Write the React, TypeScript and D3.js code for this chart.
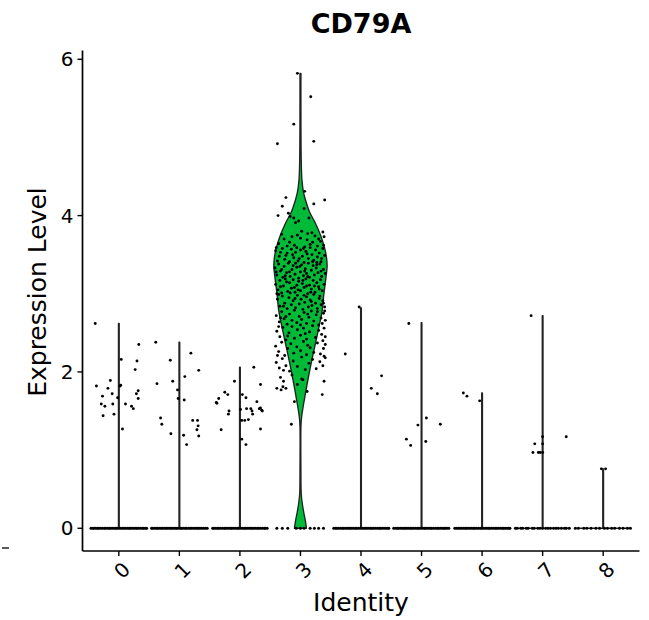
import React from 'react';
import * as d3 from 'd3';

// ---------- data ----------
const categories = ['0', '1', '2', '3', '4', '5', '6', '7', '8'];
const yTicks = [0, 2, 4, 6];
const clusterColors = ['#F8766D', '#D39200', '#93AA00', '#00BA38', '#00C19F', '#00B9E3', '#619CFF', '#DB72FB', '#FF61C3'];
const clusterMax = [2.62, 2.38, 2.06, 5.82, 2.82, 2.63, 1.73, 2.72, 0.76];

// violin profile of cluster 3: [expression, half width in category units]
const cluster3Profile: [number, number][] = [
  [0, 0.1], [0.1, 0.08], [0.2, 0.055], [0.3, 0.033], [0.4, 0.017], [0.5, 0.01], [0.7, 0.008],
  [1.3, 0.008], [1.41, 0.017], [1.54, 0.041], [1.65, 0.066], [1.75, 0.088], [1.96, 0.138],
  [2.1, 0.174], [2.37, 0.249], [2.58, 0.307], [2.79, 0.36], [2.99, 0.386], [3.2, 0.42],
  [3.35, 0.44], [3.46, 0.431], [3.59, 0.398], [3.75, 0.332], [3.9, 0.249], [4.05, 0.149],
  [4.2, 0.083], [4.3, 0.05], [4.45, 0.025], [4.7, 0.013], [5.82, 0.008],
];

// jittered non-zero cells: [jitter offset (category units), expression]
const expr0: [number, number][] = [
  [-0.39, 2.62], [-0.37, 1.82], [-0.27, 1.69], [-0.29, 1.59], [-0.23, 1.56], [-0.26, 1.44], [-0.18, 1.79],
  [-0.14, 1.89], [-0.11, 1.72], [-0.1, 1.59], [-0.08, 1.46], [-0.02, 1.67], [0.02, 1.82], [0.03, 1.83],
  [0.04, 2.16], [0.06, 1.27], [0.11, 1.59], [0.21, 1.56], [0.24, 1.53], [0.27, 2.03], [0.3, 2.14],
  [0.29, 1.72], [0.32, 1.76], [0.32, 1.66], [0.33, 2.35],
];
const expr1: [number, number][] = [
  [-0.39, 2.38], [-0.37, 1.85], [-0.31, 1.41], [-0.29, 1.33], [-0.15, 2.15], [-0.14, 1.21], [-0.11, 1.88],
  [-0.03, 1.77], [-0.02, 1.66], [0.08, 1.64], [0.09, 1.94], [0.07, 1.19], [0.12, 1.07], [0.19, 2.24],
  [0.22, 1.38], [0.3, 1.38], [0.31, 1.31], [0.29, 1.26], [0.32, 1.18], [0.32, 2.02],
];
const expr2: [number, number][] = [
  [-0.39, 1.61], [-0.38, 1.6], [-0.35, 1.66], [-0.31, 1.26], [-0.25, 1.74], [-0.2, 1.71], [-0.18, 1.5],
  [-0.19, 1.46], [-0.09, 1.88], [0.01, 1.52], [0.03, 1.38], [0.03, 1.14], [0.04, 1.71], [0.08, 1.38],
  [0.1, 1.67], [0.11, 1.53], [0.1, 1.07], [0.14, 1.39], [0.18, 1.53], [0.2, 1.5], [0.21, 1.46],
  [0.23, 2.06], [0.28, 1.62], [0.32, 1.53], [0.34, 1.54], [0.36, 1.51], [0.37, 1.5], [0.34, 1.84], [0.34, 1.27],
];
const expr3: [number, number][] = [
  [-0.05, 5.82], [0.17, 5.52], [-0.11, 5.17], [-0.38, 4.92], [0.22, 4.95],
  [-0.24, 4.23], [0.4, 4.2], [-0.37, 4.0], [0.07, 4.31], [-0.2, 4.03], [-0.17, 3.99], [-0.11, 3.97],
  [-0.08, 3.91], [-0.03, 3.93], [0.06, 4.09], [0.14, 3.97], [0.02, 3.8], [0.19, 3.78], [0.37, 3.79],
  [0.39, 3.73], [0.22, 4.15], [-0.3, 4.12],
  [-0.27, 3.7], [-0.36, 3.64], [-0.18, 3.66], [-0.1, 3.62], [0.0, 3.71], [0.11, 3.69], [0.16, 3.63],
  [0.28, 3.61], [0.33, 3.67], [-0.31, 3.76], [-0.05, 3.75], [0.24, 3.74], [-0.22, 3.61], [0.07, 3.6],
  [0.38, 3.62], [-0.4, 3.59], [0.12, 3.77], [-0.14, 3.73], [0.3, 3.7], [0.2, 3.66],
  [-0.41, 3.55], [-0.35, 3.48], [-0.3, 3.58], [-0.26, 3.44], [-0.22, 3.52], [-0.18, 3.41], [-0.15, 3.57],
  [-0.11, 3.46], [-0.08, 3.53], [-0.04, 3.42], [0.0, 3.56], [0.03, 3.48], [0.06, 3.4], [0.09, 3.54],
  [0.13, 3.45], [0.16, 3.59], [0.19, 3.5], [0.22, 3.43], [0.25, 3.56], [0.28, 3.47], [0.31, 3.52],
  [0.34, 3.41], [0.37, 3.58], [0.4, 3.49], [-0.38, 3.42], [-0.33, 3.53], [-0.13, 3.5], [0.05, 3.58],
  [0.2, 3.41], [-0.02, 3.45], [0.11, 3.51], [-0.24, 3.49], [0.35, 3.45], [-0.06, 3.59], [0.27, 3.4],
  [-0.42, 3.33], [-0.39, 3.24], [-0.36, 3.38], [-0.33, 3.29], [-0.29, 3.21], [-0.27, 3.35], [-0.23, 3.27],
  [-0.2, 3.39], [-0.17, 3.22], [-0.14, 3.31], [-0.12, 3.36], [-0.09, 3.25], [-0.06, 3.34], [-0.03, 3.2],
  [0.0, 3.28], [0.02, 3.37], [0.05, 3.23], [0.08, 3.32], [0.1, 3.26], [0.13, 3.39], [0.15, 3.21],
  [0.18, 3.3], [0.21, 3.36], [0.23, 3.24], [0.26, 3.33], [0.29, 3.27], [0.32, 3.38], [0.35, 3.22],
  [0.38, 3.31], [0.41, 3.26], [-0.31, 3.31], [-0.18, 3.28], [-0.01, 3.35], [0.12, 3.22], [0.27, 3.37],
  [-0.4, 3.28], [0.07, 3.29], [-0.25, 3.23], [0.34, 3.29], [-0.08, 3.39],
  [-0.41, 3.12], [-0.37, 3.05], [-0.34, 3.17], [-0.31, 3.01], [-0.28, 3.1], [-0.25, 3.19], [-0.21, 3.03],
  [-0.18, 3.14], [-0.15, 3.07], [-0.12, 3.18], [-0.09, 3.02], [-0.06, 3.11], [-0.03, 3.16], [0.0, 3.04],
  [0.03, 3.13], [0.06, 3.08], [0.09, 3.19], [0.12, 3.0], [0.15, 3.11], [0.18, 3.06], [0.21, 3.17],
  [0.24, 3.02], [0.27, 3.14], [0.3, 3.09], [0.33, 3.18], [0.36, 3.04], [0.39, 3.12], [-0.39, 3.0],
  [-0.23, 3.15], [-0.1, 3.08], [0.04, 3.17], [0.17, 3.02], [0.31, 3.06], [-0.33, 3.09], [0.1, 3.1],
  [-0.17, 3.01], [0.23, 3.1], [-0.04, 3.05],
  [-0.38, 2.93], [-0.34, 2.84], [-0.3, 2.97], [-0.26, 2.88], [-0.22, 2.81], [-0.19, 2.95], [-0.15, 2.86],
  [-0.12, 2.91], [-0.08, 2.82], [-0.05, 2.98], [-0.02, 2.87], [0.01, 2.93], [0.04, 2.8], [0.07, 2.89],
  [0.1, 2.96], [0.13, 2.83], [0.16, 2.92], [0.19, 2.85], [0.22, 2.99], [0.25, 2.88], [0.28, 2.81],
  [0.31, 2.94], [0.34, 2.86], [0.37, 2.91], [0.4, 2.83], [-0.28, 2.84], [-0.09, 2.94], [0.06, 2.98],
  [0.18, 2.9], [0.32, 2.97], [-0.36, 2.99], [0.38, 2.88],
  [-0.4, 2.72], [-0.35, 2.64], [-0.31, 2.77], [-0.27, 2.68], [-0.22, 2.61], [-0.18, 2.74], [-0.14, 2.66],
  [-0.1, 2.79], [-0.06, 2.63], [-0.02, 2.71], [0.02, 2.67], [0.06, 2.76], [0.1, 2.62], [0.14, 2.7],
  [0.18, 2.78], [0.22, 2.65], [0.26, 2.73], [0.3, 2.6], [0.34, 2.69], [0.38, 2.75], [0.41, 2.66],
  [-0.24, 2.71], [0.0, 2.6], [0.12, 2.74], [0.36, 2.62], [-0.33, 2.69], [0.28, 2.77], [0.4, 2.78],
  [-0.39, 2.52], [-0.34, 2.45], [-0.29, 2.57], [-0.24, 2.41], [-0.19, 2.5], [-0.14, 2.58], [-0.1, 2.43],
  [-0.05, 2.54], [0.0, 2.47], [0.05, 2.56], [0.1, 2.42], [0.15, 2.51], [0.2, 2.59], [0.25, 2.44],
  [0.3, 2.53], [0.35, 2.48], [0.39, 2.56], [0.41, 2.45], [0.37, 2.4], [-0.36, 2.58], [0.08, 2.49], [-0.21, 2.46],
  [-0.41, 2.33], [-0.36, 2.26], [-0.31, 2.38], [-0.26, 2.21], [-0.21, 2.3], [-0.16, 2.36], [-0.11, 2.24],
  [-0.06, 2.32], [0.0, 2.27], [0.05, 2.39], [0.1, 2.22], [0.16, 2.31], [0.22, 2.25], [0.28, 2.37],
  [0.33, 2.23], [0.38, 2.3], [0.41, 2.35], [0.39, 2.2], [-0.38, 2.21], [0.12, 2.34],
  [-0.4, 2.12], [-0.35, 2.05], [-0.3, 2.17], [-0.24, 2.08], [-0.18, 2.01], [-0.12, 2.14], [-0.05, 2.07],
  [0.02, 2.19], [0.08, 2.03], [0.14, 2.11], [0.2, 2.16], [0.26, 2.04], [0.32, 2.13], [0.37, 2.08],
  [0.41, 2.18], [-0.28, 2.02],
  [-0.33, 1.93], [-0.28, 1.88], [-0.39, 1.79], [-0.32, 1.77], [-0.29, 1.81], [-0.24, 1.79], [-0.14, 1.96],
  [-0.05, 1.84], [0.02, 1.91], [0.04, 1.9], [-0.1, 1.62], [0.39, 1.88], [0.36, 1.71], [0.11, 1.75], [-0.15, 1.33],
];
const expr4: [number, number][] = [[-0.03, 2.83], [-0.26, 2.23], [0.17, 1.79], [0.27, 1.72], [0.34, 1.95]];
const expr5: [number, number][] = [[-0.21, 2.62], [-0.25, 1.14], [-0.18, 1.06], [-0.06, 1.32], [0.08, 1.41], [0.07, 1.11], [0.31, 1.33]];
const expr6: [number, number][] = [[-0.31, 1.73], [-0.25, 1.69], [-0.04, 1.63]];
const expr7: [number, number][] = [[-0.19, 2.72], [-0.13, 1.08], [-0.16, 0.97], [-0.07, 0.97], [-0.04, 0.97], [0.0, 0.97], [0.0, 1.17], [0.0, 1.08], [0.39, 1.17]];
const expr8: [number, number][] = [[-0.03, 0.76], [0.04, 0.76]];

// jitter offsets of the cells at zero expression
const zeros0 = [-0.46, -0.43, -0.41, -0.38, -0.35, -0.33, -0.3, -0.27, -0.24, -0.22, -0.19, -0.16, -0.14, -0.11, -0.08, -0.05, -0.03, 0.0, 0.03, 0.06, 0.08, 0.11, 0.14, 0.17, 0.19, 0.22, 0.25, 0.28, 0.3, 0.33, 0.36, 0.39, 0.41, 0.44, 0.46];
const zeros1 = [-0.46, -0.44, -0.41, -0.38, -0.36, -0.33, -0.3, -0.28, -0.25, -0.22, -0.2, -0.17, -0.14, -0.12, -0.09, -0.06, -0.04, -0.01, 0.02, 0.04, 0.07, 0.1, 0.12, 0.15, 0.18, 0.2, 0.23, 0.26, 0.29, 0.31, 0.34, 0.37, 0.4, 0.43, 0.46];
const zeros2 = [-0.45, -0.43, -0.4, -0.37, -0.35, -0.32, -0.29, -0.26, -0.24, -0.21, -0.18, -0.15, -0.13, -0.1, -0.07, -0.04, -0.02, 0.01, 0.04, 0.07, 0.09, 0.12, 0.15, 0.18, 0.2, 0.23, 0.26, 0.29, 0.31, 0.34, 0.37, 0.4, 0.42, 0.45];
const zeros3 = [-0.39, -0.3, -0.21, -0.07, 0.0, 0.06, 0.16, 0.23, 0.3, 0.38];
const zeros4 = [-0.45, -0.42, -0.4, -0.37, -0.34, -0.31, -0.29, -0.26, -0.23, -0.2, -0.18, -0.15, -0.12, -0.09, -0.07, -0.04, -0.01, 0.02, 0.05, 0.07, 0.1, 0.13, 0.16, 0.18, 0.21, 0.24, 0.27, 0.3, 0.32, 0.35, 0.38, 0.41, 0.44, 0.46];
const zeros5 = [-0.46, -0.43, -0.4, -0.38, -0.35, -0.32, -0.29, -0.27, -0.24, -0.21, -0.18, -0.16, -0.13, -0.1, -0.07, -0.05, -0.02, 0.01, 0.04, 0.06, 0.09, 0.12, 0.15, 0.17, 0.2, 0.23, 0.26, 0.28, 0.31, 0.34, 0.37, 0.39, 0.42, 0.45];
const zeros6 = [-0.45, -0.42, -0.39, -0.37, -0.34, -0.31, -0.28, -0.26, -0.23, -0.2, -0.17, -0.14, -0.12, -0.09, -0.06, -0.03, -0.01, 0.02, 0.05, 0.08, 0.11, 0.13, 0.16, 0.19, 0.22, 0.24, 0.27, 0.3, 0.33, 0.35, 0.38, 0.41, 0.44, 0.46];
const zeros7 = [-0.45, -0.42, -0.36, -0.33, -0.27, -0.24, -0.17, -0.14, -0.08, -0.04, 0.0, 0.05, 0.09, 0.13, 0.18, 0.22, 0.26, 0.31, 0.36, 0.39, 0.44];
const zeros8 = [-0.46, -0.41, -0.32, -0.27, -0.2, -0.12, -0.06, 0.02, 0.07, 0.14, 0.19, 0.27, 0.33, 0.4, 0.45];

const clusterPoints = [expr0, expr1, expr2, expr3, expr4, expr5, expr6, expr7, expr8];
const clusterZeros = [zeros0, zeros1, zeros2, zeros3, zeros4, zeros5, zeros6, zeros7, zeros8];

const FONT = "'DejaVu Sans', sans-serif";

export default function App() {
  const W = 649;
  const H = 620;
  const left = 82.5;
  const right = 639.5;
  const top = 50.6;
  const bottom = 551;

  const x = d3.scalePoint<string>().domain(categories).range([left, right]).padding(0.6);
  const step = x.step();
  const y = d3.scaleLinear().domain([-0.291, 6.111]).range([bottom, top]);

  const violins = categories.map((c, i) => {
    const cx = x(c) as number;
    const profile: [number, number][] =
      i === 3 ? cluster3Profile : [[0, 0.45], [0.004, 0.006], [clusterMax[i], 0.006]];
    const area = d3
      .area<[number, number]>()
      .y((d) => y(d[0]))
      .x0((d) => cx - d[1] * step)
      .x1((d) => cx + d[1] * step)
      .curve(i === 3 ? d3.curveCatmullRom : d3.curveLinear);
    return (
      <path
        key={'v' + c}
        d={area(profile) || ''}
        fill={i === 3 ? clusterColors[i] : '#222'}
        stroke="#222"
        strokeWidth={1.35}
        strokeLinejoin="round"
      />
    );
  });

  const dots: React.ReactNode[] = [];
  categories.forEach((c, i) => {
    const cx = x(c) as number;
    clusterZeros[i].forEach((o, j) =>
      dots.push(<circle key={`z${i}-${j}`} cx={cx + o * step} cy={y(0)} r={1.5} fill="#000" />)
    );
    clusterPoints[i].forEach(([o, v], j) =>
      dots.push(<circle key={`p${i}-${j}`} cx={cx + o * step} cy={y(v)} r={1.45} fill="#000" />)
    );
  });

  return (
    <svg
      width={W}
      height={H}
      style={{ position: 'absolute', left: 0, top: 0, background: '#fff' }}
      fontFamily={FONT}
    >
      <rect width={W} height={H} fill="#fff" />
      <text x={(left + right) / 2} y={33} textAnchor="middle" fontWeight="bold" fontSize={27} fill="#000">
        CD79A
      </text>

      {violins}
      {dots}

      {/* axes */}
      <line x1={left} x2={left} y1={top} y2={bottom} stroke="#000" strokeWidth={1.7} />
      <line x1={left} x2={right} y1={bottom} y2={bottom} stroke="#000" strokeWidth={1.7} />
      {yTicks.map((t) => (
        <g key={'yt' + t}>
          <line x1={left - 5} x2={left} y1={y(t)} y2={y(t)} stroke="#000" strokeWidth={1.4} />
          <text x={left - 9} y={y(t)} dy="0.36em" textAnchor="end" fontSize={20} fill="#000">
            {t}
          </text>
        </g>
      ))}
      {categories.map((c) => {
        const cx = x(c) as number;
        return (
          <g key={'xt' + c}>
            <line x1={cx} x2={cx} y1={bottom} y2={bottom + 5} stroke="#000" strokeWidth={1.4} />
            <text
              transform={`translate(${cx + 2},${bottom + 9}) rotate(-45)`}
              textAnchor="end"
              dominantBaseline="hanging"
              fontSize={20}
              fill="#000"
            >
              {c}
            </text>
          </g>
        );
      })}
      <text x={(left + right) / 2} y={611} textAnchor="middle" fontSize={25} fill="#000">
        Identity
      </text>
      <text
        transform={`translate(46,${292}) rotate(-90)`}
        textAnchor="middle"
        fontSize={25}
        fill="#000"
      >
        Expression Level
      </text>
      <line x1={2} x2={9} y1={548} y2={548} stroke="#000" strokeWidth={1.3} />
    </svg>
  );
}
